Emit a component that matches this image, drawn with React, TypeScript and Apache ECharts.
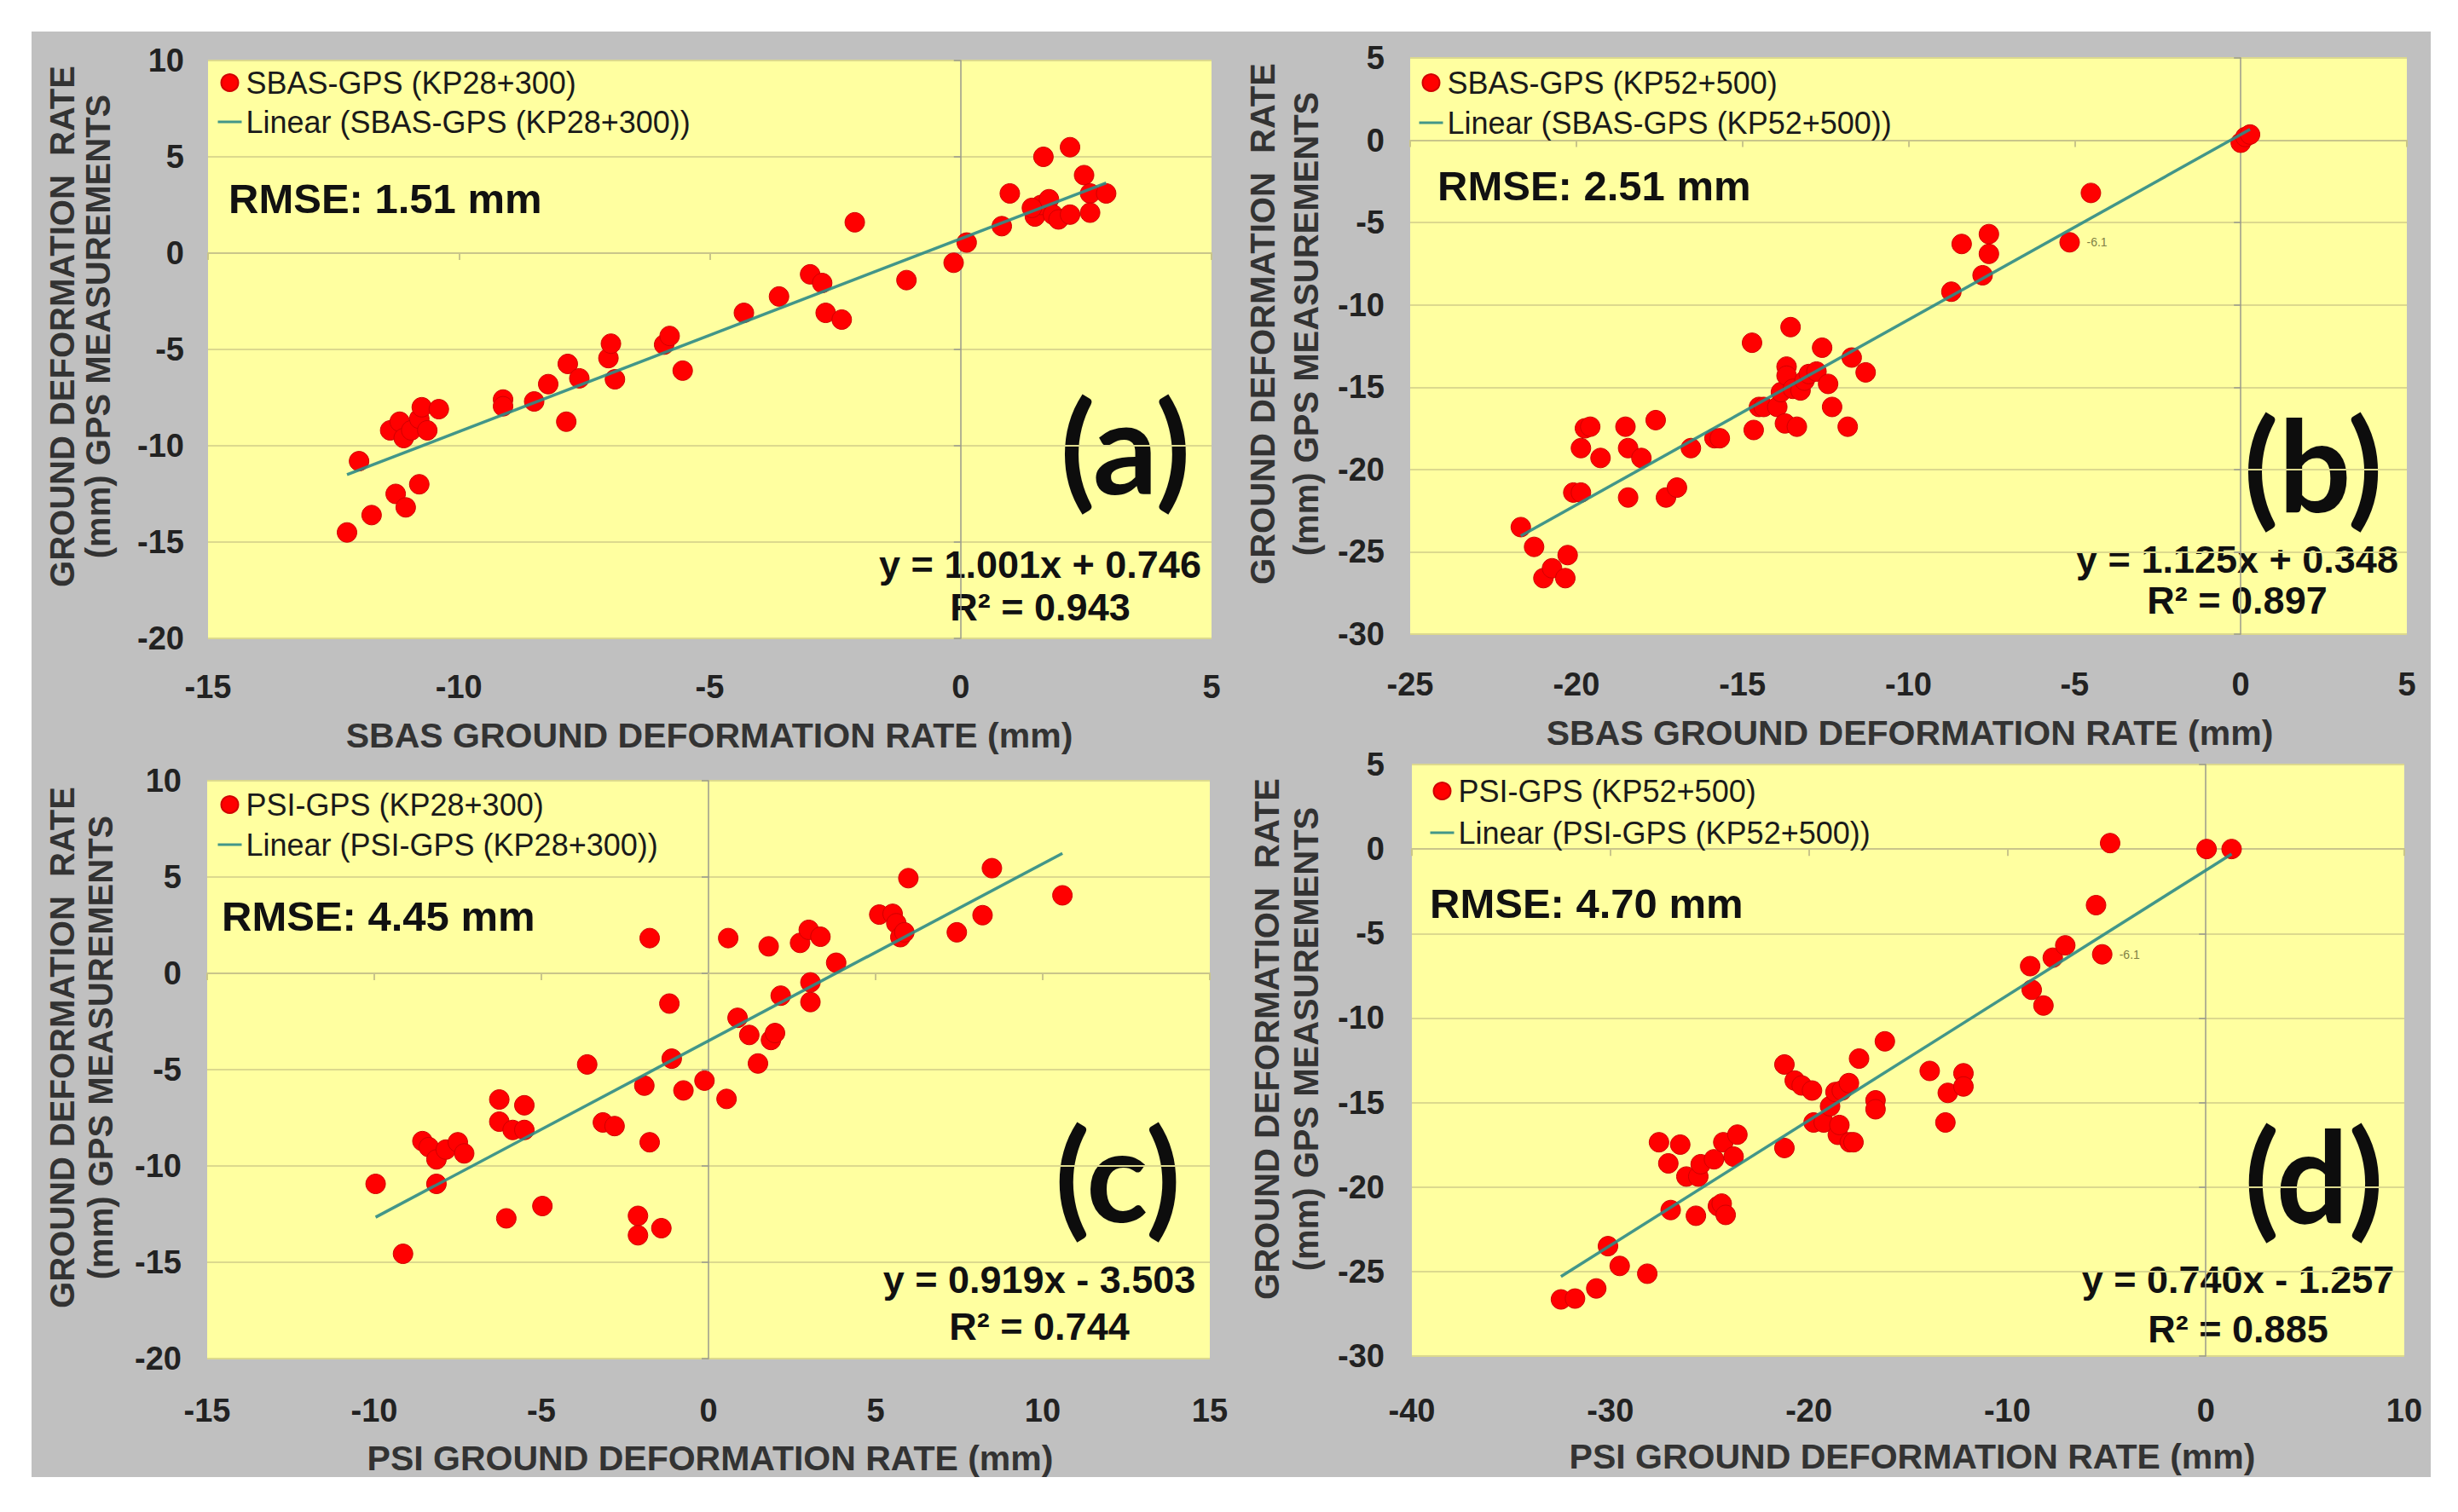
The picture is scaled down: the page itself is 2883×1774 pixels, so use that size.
import React, { useEffect, useRef } from "react";
import * as echarts from "echarts";

// ---------- DATA ----------
// Panel (a) SBAS vs GPS, KP28+300
const aX = [-12.23, -11.99, -11.74, -11.37, -11.26, -11.18, -11.1, -11.06, -10.95, -10.79, -10.79, -10.74, -10.63, -10.4, -9.12, -9.12, -8.5, -8.22, -7.86, -7.83, -7.6, -7.02, -6.97, -6.89, -5.91, -5.8, -5.54, -4.32, -3.62, -3.0, -2.76, -2.69, -2.37, -2.11, -1.08, -0.14, 0.12, 0.82, 0.98, 1.48, 1.6, 1.65, 1.76, 1.84, 1.95, 2.18, 2.18, 2.46, 2.58, 2.58, 2.9, 1.42];
const aY = [-14.5, -10.8, -13.6, -9.2, -12.5, -8.75, -9.6, -13.2, -9.2, -12.0, -8.6, -8.0, -9.2, -8.1, -7.6, -7.95, -7.7, -6.8, -8.75, -5.75, -6.5, -5.45, -4.7, -6.55, -4.75, -4.3, -6.1, -3.1, -2.25, -1.1, -1.55, -3.1, -3.45, 1.6, -1.4, -0.5, 0.55, 1.4, 3.1, 1.9, 2.5, 5.0, 2.8, 2.0, 1.75, 5.5, 2.0, 4.05, 3.1, 2.1, 3.1, 2.35];
const aTrendX = [-12.23, 2.9];
const aTrendY = [-11.5, 3.65];
const aXAxis = [-15, 5, 5]; // min, max, interval
const aYAxis = [-20, 10, 5];

// Panel (b) SBAS vs GPS, KP52+500
const bX = [-21.67, -21.27, -20.99, -20.73, -20.33, -20.26, -20.09, -19.86, -19.86, -19.74, -19.58, -19.27, -18.52, -18.44, -18.44, -18.04, -17.61, -17.3, -16.97, -16.55, -15.84, -15.68, -14.71, -14.66, -14.5, -14.36, -13.95, -13.84, -13.72, -13.67, -13.67, -13.55, -13.48, -13.36, -13.25, -13.13, -13.0, -12.77, -12.6, -12.42, -12.3, -11.83, -11.71, -11.29, -8.71, -8.4, -7.77, -7.58, -7.58, -5.15, -4.51, 0.0, 0.14, 0.28];
const bY = [-23.5, -24.7, -26.6, -26.0, -26.6, -25.2, -21.4, -21.4, -18.7, -17.5, -17.4, -19.3, -17.4, -18.7, -21.7, -19.3, -17.0, -21.7, -21.1, -18.7, -18.1, -18.1, -12.3, -17.6, -16.2, -16.2, -16.2, -15.3, -17.2, -13.75, -14.3, -11.35, -15.1, -17.4, -15.2, -14.6, -14.2, -14.05, -12.6, -14.8, -16.2, -17.4, -13.2, -14.1, -9.2, -6.3, -8.2, -5.7, -6.9, -6.2, -3.2, -0.15, 0.2, 0.35];
const bTrendX = [-21.67, 0.28];
const bTrendY = [-24.03, 0.66];
const bXAxis = [-25, 5, 5];
const bYAxis = [-30, 5, 5];

// Panel (c) PSI vs GPS, KP28+300
const cX = [-9.96, -9.14, -8.56, -8.37, -8.14, -8.14, -7.86, -7.5, -7.31, -6.26, -6.26, -6.05, -5.86, -5.51, -5.51, -4.97, -3.63, -3.16, -2.81, -2.11, -2.11, -1.92, -1.76, -1.76, -1.41, -1.17, -1.1, -0.75, -0.12, 0.54, 0.59, 0.87, 1.22, 1.48, 1.8, 1.87, 1.99, 2.16, 2.74, 3.0, 3.05, 3.05, 3.35, 3.82, 5.11, 5.51, 5.62, 5.74, 5.86, 5.98, 7.43, 8.2, 8.48, 10.59];
const cY = [-10.93, -14.56, -8.71, -9.02, -9.66, -10.93, -9.15, -8.77, -9.35, -6.55, -7.7, -12.72, -8.13, -6.85, -8.13, -12.08, -4.73, -7.74, -7.93, -12.59, -13.6, -5.83, 1.83, -8.77, -13.23, -1.57, -4.43, -6.08, -5.57, -6.52, 1.83, -2.31, -3.2, -4.68, 1.4, -3.46, -3.1, -1.16, 1.58, 2.26, -1.49, -0.47, 1.9, 0.55, 3.05, 3.09, 2.6, 1.88, 2.13, 4.94, 2.13, 3.02, 5.46, 4.05];
const cTrendX = [-9.96, 10.59];
const cTrendY = [-12.66, 6.23];
const cXAxis = [-15, 15, 5];
const cYAxis = [-20, 10, 5];

// Panel (d) PSI vs GPS, KP52+500
const dX = [-32.49, -31.78, -30.71, -30.12, -29.53, -28.14, -27.55, -27.08, -26.96, -26.48, -26.17, -25.69, -25.57, -25.45, -24.78, -24.58, -24.39, -24.31, -24.19, -23.79, -23.6, -21.23, -21.23, -20.71, -20.36, -19.84, -19.76, -19.25, -18.93, -18.66, -18.54, -18.46, -18.34, -17.94, -17.98, -17.75, -17.47, -16.64, -16.64, -16.17, -13.91, -13.12, -13.0, -12.21, -12.21, -8.85, -8.77, -8.18, -7.71, -7.08, -5.53, -5.22, -4.82, 0.04, 1.3];
const dY = [-26.65, -26.6, -26.0, -23.5, -24.67, -25.13, -17.35, -18.6, -21.36, -17.49, -19.38, -21.7, -19.38, -18.65, -18.36, -21.13, -20.98, -17.35, -21.65, -18.2, -16.9, -17.69, -12.75, -13.7, -13.99, -14.29, -16.18, -16.18, -15.22, -14.38, -16.91, -16.33, -14.29, -17.35, -13.85, -17.35, -12.4, -14.87, -15.4, -11.38, -13.13, -16.18, -14.43, -13.27, -14.05, -6.93, -8.33, -9.26, -6.43, -5.7, -3.32, -6.23, 0.35, 0.0, 0.0];
const dTrendX = [-32.49, 1.3];
const dTrendY = [-25.3, -0.3];
const dXAxis = [-40, 10, 10];
const dYAxis = [-30, 5, 5];

// ---------- TEXTS ----------
const seriesNames = ["SBAS-GPS (KP28+300)", "SBAS-GPS (KP52+500)", "PSI-GPS (KP28+300)", "PSI-GPS (KP52+500)"];
const trendNames = ["Linear (SBAS-GPS (KP28+300))", "Linear (SBAS-GPS (KP52+500))", "Linear (PSI-GPS (KP28+300))", "Linear (PSI-GPS (KP52+500))"];
const rmseTexts = ["RMSE: 1.51 mm", "RMSE: 2.51 mm", "RMSE: 4.45 mm", "RMSE: 4.70 mm"];
const eqTexts = ["y = 1.001x + 0.746", "y = 1.125x + 0.348", "y = 0.919x - 3.503", "y = 0.740x - 1.257"];
const r2Texts = ["R² = 0.943", "R² = 0.897", "R² = 0.744", "R² = 0.885"];
const letters = ["(a)", "(b)", "(c)", "(d)"];
const xTitles = ["SBAS GROUND DEFORMATION RATE (mm)", "SBAS GROUND DEFORMATION RATE (mm)", "PSI GROUND DEFORMATION RATE (mm)", "PSI GROUND DEFORMATION RATE (mm)"];
const yTitle1 = "GROUND DEFORMATION  RATE";
const yTitle2 = "(mm) GPS MEASUREMENTS";
const pointLabelIndex = [-1, 49, -1, 51];
const pointLabelText = ["", "-6.1", "", "-6.1"];

// ---------- LAYOUT / STYLE ----------
const FONT = "'Liberation Sans', Arial, sans-serif";
const YELLOW = "#ffffa0";
const GREY = "#c0c0c0";
const GRIDC = "#dcd98e";
const ZEROH = "#c9c58a";
const ZEROV = "#9a9a8c";
const RED = "#ff0000";
const TEAL = "#2e8b86";

const layouts = [
  { grid: [244, 71, 1177, 678], legend: [254, 79], gap: 10, rmse: [268, 233], letter: [1320, 522], eq: [1220, 662, 712], yt: [73, 115, 383], xt: [832, 863], xm: 38, ym: 28 },
  { grid: [1654, 68, 1169, 676], legend: [1663, 79], gap: 11, rmse: [1686, 218], letter: [2713, 543], eq: [2624, 656, 704], yt: [1481, 1532, 380], xt: [2240, 860], xm: 40, ym: 30 },
  { grid: [243, 916, 1176, 678], legend: [254, 926], gap: 11, rmse: [260, 1075], letter: [1311, 1376], eq: [1219, 1501, 1556], yt: [73, 118, 1229], xt: [833, 1711], xm: 42, ym: 30 },
  { grid: [1656, 897, 1164, 694], legend: [1676, 910], gap: 13, rmse: [1677, 1060], letter: [2714, 1377], eq: [2625, 1501, 1559], yt: [1486, 1532, 1219], xt: [2243, 1709], xm: 45, ym: 32 },
];

function buildOption() {
  const panels = [
    { xs: aX, ys: aY, tx: aTrendX, ty: aTrendY, xr: aXAxis, yr: aYAxis },
    { xs: bX, ys: bY, tx: bTrendX, ty: bTrendY, xr: bXAxis, yr: bYAxis },
    { xs: cX, ys: cY, tx: cTrendX, ty: cTrendY, xr: cXAxis, yr: cYAxis },
    { xs: dX, ys: dY, tx: dTrendX, ty: dTrendY, xr: dXAxis, yr: dYAxis },
  ];
  const grid: any[] = [];
  const xAxis: any[] = [];
  const yAxis: any[] = [];
  const series: any[] = [];
  const legend: any[] = [];
  const graphic: any[] = [
    { type: "rect", z: -100, silent: true, shape: { x: 37, y: 37, width: 2814, height: 1696 }, style: { fill: GREY } },
  ];
  const tickLabel = { fontFamily: FONT, fontWeight: "bold", fontSize: 38, color: "#222" };

  panels.forEach((p, i) => {
    const L = layouts[i];
    grid.push({ left: L.grid[0], top: L.grid[1], width: L.grid[2], height: L.grid[3], show: true, backgroundColor: YELLOW, borderWidth: 0 });
    const xBase = { type: "value", gridIndex: i, min: p.xr[0], max: p.xr[1], interval: p.xr[2] };
    const yBase = { type: "value", gridIndex: i, min: p.yr[0], max: p.yr[1], interval: p.yr[2] };
    xAxis.push({ ...xBase, position: "bottom", axisLine: { show: false, onZero: false }, axisTick: { show: false }, splitLine: { show: false }, axisLabel: { ...tickLabel, margin: L.xm } });
    xAxis.push({ ...xBase, position: "bottom", axisLine: { show: true, onZero: true, onZeroAxisIndex: 2 * i, lineStyle: { color: ZEROH, width: 2 } }, axisTick: { show: true, length: 8, lineStyle: { color: ZEROH, width: 2 } }, axisLabel: { show: false }, splitLine: { show: false } });
    yAxis.push({ ...yBase, position: "left", axisLine: { show: false, onZero: false }, axisTick: { show: false }, splitLine: { show: true, lineStyle: { color: GRIDC, width: 2 } }, axisLabel: { ...tickLabel, margin: L.ym } });
    yAxis.push({ ...yBase, position: "left", axisLine: { show: true, onZero: true, onZeroAxisIndex: 2 * i, lineStyle: { color: ZEROV, width: 1.5 } }, axisTick: { show: true, length: 8, lineStyle: { color: ZEROV, width: 1.5 } }, axisLabel: { show: false }, splitLine: { show: false } });

    const data = p.xs.map((x, k) => {
      if (k === pointLabelIndex[i]) {
        return { value: [x, p.ys[k]], label: { show: true, position: "right", distance: 8, formatter: pointLabelText[i], fontSize: 14, color: "#7f7f45", fontFamily: FONT } };
      }
      return [x, p.ys[k]];
    });
    series.push({
      type: "scatter", name: seriesNames[i], xAxisIndex: 2 * i, yAxisIndex: 2 * i, symbol: "circle", symbolSize: 23,
      itemStyle: { color: RED, borderColor: "#d00000", borderWidth: 1, opacity: 1 }, data, z: 3,
    });
    series.push({
      type: "line", name: trendNames[i], xAxisIndex: 2 * i, yAxisIndex: 2 * i, symbol: "none", showSymbol: false,
      lineStyle: { color: TEAL, width: 3.5, opacity: 0.9 }, itemStyle: { color: TEAL },
      data: p.tx.map((x, k) => [x, p.ty[k]]), z: 4,
    });
    legend.push({
      left: L.legend[0], top: L.legend[1], orient: "vertical", padding: 0, itemGap: L.gap, itemWidth: 28, itemHeight: 20,
      selectedMode: false,
      data: [
        { name: seriesNames[i] },
        { name: trendNames[i], itemStyle: { color: "rgba(0,0,0,0)", borderWidth: 0, opacity: 0 }, lineStyle: { color: TEAL, width: 3 } },
      ],
      textStyle: { fontFamily: FONT, fontSize: 36, color: "#1a1a1a", lineHeight: 36 },
    });

    graphic.push({ type: "text", x: L.rmse[0], y: L.rmse[1], style: { text: rmseTexts[i], fill: "#111", font: `bold 49px ${FONT}`, textAlign: "left", textVerticalAlign: "middle", verticalAlign: "middle" } });
    graphic.push({ type: "text", x: L.eq[0], y: L.eq[1], style: { text: eqTexts[i], fill: "#111", font: `bold 45px ${FONT}`, textAlign: "center", textVerticalAlign: "middle", verticalAlign: "middle" } });
    graphic.push({ type: "text", x: L.eq[0], y: L.eq[2], style: { text: r2Texts[i], fill: "#111", font: `bold 45px ${FONT}`, textAlign: "center", textVerticalAlign: "middle", verticalAlign: "middle" } });
    graphic.push({ type: "text", x: L.letter[0], y: L.letter[1], style: { text: letters[i], fill: "#0d0d0d", font: `bold 150px Lato, 'Open Sans', sans-serif`, textAlign: "center", textVerticalAlign: "middle", verticalAlign: "middle" } });
    graphic.push({ type: "text", x: L.xt[0], y: L.xt[1], style: { text: xTitles[i], fill: "#333", font: `bold 41px ${FONT}`, textAlign: "center", textVerticalAlign: "middle", verticalAlign: "middle" } });
    graphic.push({ type: "text", x: L.yt[0], y: L.yt[2], rotation: Math.PI / 2, style: { text: yTitle1, fill: "#333", font: `bold 40px ${FONT}`, textAlign: "center", textVerticalAlign: "middle", verticalAlign: "middle" } });
    graphic.push({ type: "text", x: L.yt[1], y: L.yt[2], rotation: Math.PI / 2, style: { text: yTitle2, fill: "#333", font: `bold 40px ${FONT}`, textAlign: "center", textVerticalAlign: "middle", verticalAlign: "middle" } });
  });

  return { animation: false, backgroundColor: "#ffffff", grid, xAxis, yAxis, series, legend, graphic };
}

export default function App() {
  const ref = useRef<HTMLDivElement>(null);
  useEffect(() => {
    document.body.style.margin = "0";
    if (!ref.current) return;
    const chart = echarts.init(ref.current, undefined, { renderer: "svg" });
    chart.setOption(buildOption() as any);
    return () => chart.dispose();
  }, []);
  return <div ref={ref} style={{ width: 2883, height: 1774 }} />;
}
